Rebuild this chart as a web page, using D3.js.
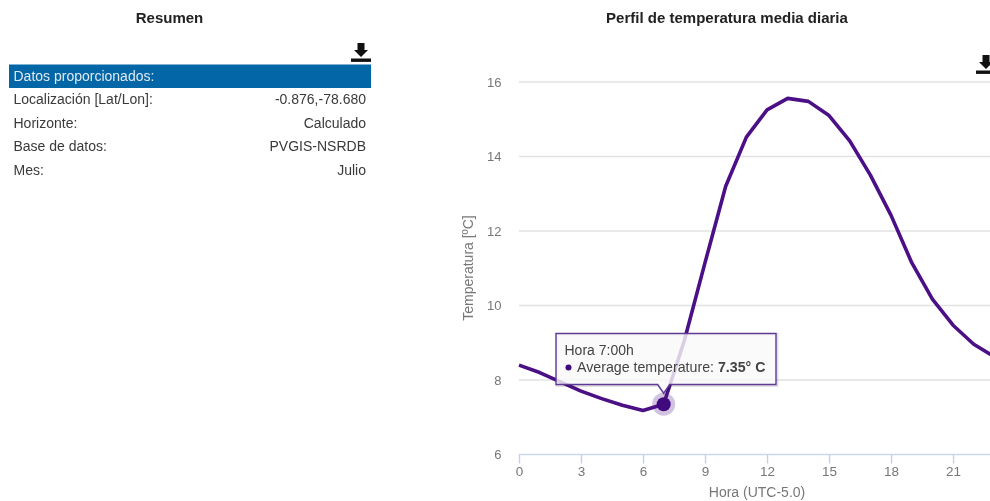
<!DOCTYPE html>
<html><head><meta charset="utf-8">
<script src="https://cdnjs.cloudflare.com/ajax/libs/d3/7.8.5/d3.min.js"></script>
<style>
html,body{margin:0;padding:0;background:#fff;overflow:hidden}
svg{display:block;font-family:"Liberation Sans",Arial,sans-serif;filter:blur(.5px)}
</style></head><body>
<script>
const hours=[0,1,2,3,4,5,6,7,8,9,10,11,12,13,14,15,16,17,18,19,20,21,22,23];
const temperature=[8.4,8.2,7.95,7.7,7.5,7.32,7.18,7.35,9.06,11.15,13.2,14.52,15.25,15.56,15.48,15.1,14.42,13.5,12.42,11.15,10.17,9.47,8.96,8.62];
const xTicks=[0,3,6,9,12,15,18,21];
const yTicks=[6,8,10,12,14,16];
const summaryHeader="Datos proporcionados:";
const summaryLabels=["Localización [Lat/Lon]:","Horizonte:","Base de datos:","Mes:"];
const summaryValues=["-0.876,-78.680","Calculado","PVGIS-NSRDB","Julio"];
const activeHour=7;

const W=990,H=501;
const svg=d3.select("body").append("svg").attr("width",W).attr("height",H);
const x=d3.scaleLinear().domain([0,23]).range([519,994.4]);
const y=d3.scaleLinear().domain([6,16]).range([454.5,82]);

// ---- Summary panel
svg.append("text").attr("x",169.5).attr("y",23).attr("text-anchor","middle")
  .attr("font-size",15).attr("font-weight","bold").attr("fill","#222").text("Resumen");
function dl(g,cx,top){
  g.append("path").attr("fill","#111").attr("d",
   `M${cx-3.5},${top}h7v7h3.5l-7,7l-7,-7h3.5z`);
  g.append("rect").attr("x",cx-10).attr("y",top+15.5).attr("width",20).attr("height",3.4).attr("fill","#111");
}
dl(svg.append("g"),361,43);
svg.append("rect").attr("x",9).attr("y",64.5).attr("width",362).attr("height",23.5).attr("fill","#0366a6");
svg.append("text").attr("x",13.5).attr("y",81).attr("font-size",14).attr("fill","#dfeaf3").text(summaryHeader);
const rowY=d3.scalePoint().domain(d3.range(summaryLabels.length)).range([104,174.7]);
svg.append("g").selectAll("text").data(summaryLabels).join("text")
  .attr("x",13.5).attr("y",(d,i)=>rowY(i)).attr("font-size",14).attr("fill","#3a3a3a").text(d=>d);
svg.append("g").selectAll("text").data(summaryValues).join("text")
  .attr("x",366).attr("y",(d,i)=>rowY(i)).attr("text-anchor","end").attr("font-size",14).attr("fill","#3a3a3a").text(d=>d);

// ---- Chart
svg.append("text").attr("x",727).attr("y",23).attr("text-anchor","middle")
  .attr("font-size",15).attr("font-weight","bold").attr("fill","#222").text("Perfil de temperatura media diaria");
svg.append("g").selectAll("line").data(yTicks.filter(d=>d>6)).join("line")
  .attr("x1",519).attr("x2",W).attr("y1",d=>y(d)).attr("y2",d=>y(d))
  .attr("stroke","#e2e2e2").attr("stroke-width",1.5);
dl(svg.append("g"),986,55);

const yAxis=d3.axisLeft(y).tickValues(yTicks).tickSize(0).tickPadding(0);
const gy=svg.append("g").attr("transform","translate(501.5,0)").call(yAxis);
gy.select(".domain").remove();
gy.selectAll("text").attr("font-size",13).attr("font-family","inherit").attr("fill","#777").attr("dy","0.34em");

const xAxis=d3.axisBottom(x).tickValues(xTicks).tickSize(10).tickPadding(2);
const gx=svg.append("g").attr("transform","translate(0,454.5)").call(xAxis);
gx.select(".domain").attr("stroke","#ccd6eb").attr("stroke-width",1.3).attr("d",`M519,0H${W}`);
gx.selectAll("line").attr("stroke","#c4d0e8").attr("stroke-width",1.4).attr("y2",9);
gx.selectAll("text").attr("font-size",13.5).attr("font-family","inherit").attr("fill","#777").attr("y",12);

svg.append("text").attr("x",757).attr("y",497).attr("text-anchor","middle").attr("font-size",14).attr("fill","#777").text("Hora (UTC-5.0)");
svg.append("text").attr("transform","translate(473,268) rotate(-90)").attr("text-anchor","middle").attr("font-size",14).attr("fill","#777").text("Temperatura [ºC]");

const line=d3.line().x((d,i)=>x(hours[i])).y(d=>y(d));
svg.append("path").datum(temperature).attr("d",line).attr("fill","none")
  .attr("stroke","#4b0f86").attr("stroke-width",3.6).attr("stroke-linejoin","round");

// ---- Active point and tooltip
const ax=x(activeHour), ay=y(temperature[hours.indexOf(activeHour)]);
svg.append("circle").attr("cx",ax).attr("cy",ay).attr("r",11.5).attr("fill","#4b0f86").attr("opacity",.25);
svg.append("circle").attr("cx",ax).attr("cy",ay).attr("r",7).attr("fill","#3f0a7d");

const tip=svg.append("g");
const bx=556,by=333.5,bw=220,bh=51,tipY=ay-11;
const tipPath=`M${bx},${by}H${bx+bw}V${by+bh}H${ax+6}L${ax},${tipY}L${ax-6},${by+bh}H${bx}Z`;
tip.append("path").attr("d",tipPath).attr("transform","translate(1,1)").attr("fill","none").attr("stroke","#000").attr("stroke-opacity",.12).attr("stroke-width",3);
tip.append("path").attr("d",tipPath).attr("fill","#f9f9f9").attr("fill-opacity",.82).attr("stroke","#5f3a94").attr("stroke-width",1.4);
tip.append("text").attr("x",564.5).attr("y",355).attr("font-size",14).attr("fill","#444").text("Hora "+activeHour+":00h");
tip.append("circle").attr("cx",568.5).attr("cy",367.5).attr("r",3).attr("fill","#3f0a7d");
const tt=tip.append("text").attr("x",577).attr("y",372).attr("font-size",14.2).attr("fill","#444");
tt.append("tspan").text("Average temperature: ");
tt.append("tspan").attr("font-weight","bold").text(temperature[hours.indexOf(activeHour)].toFixed(2)+"° C");
</script>
</body></html>
